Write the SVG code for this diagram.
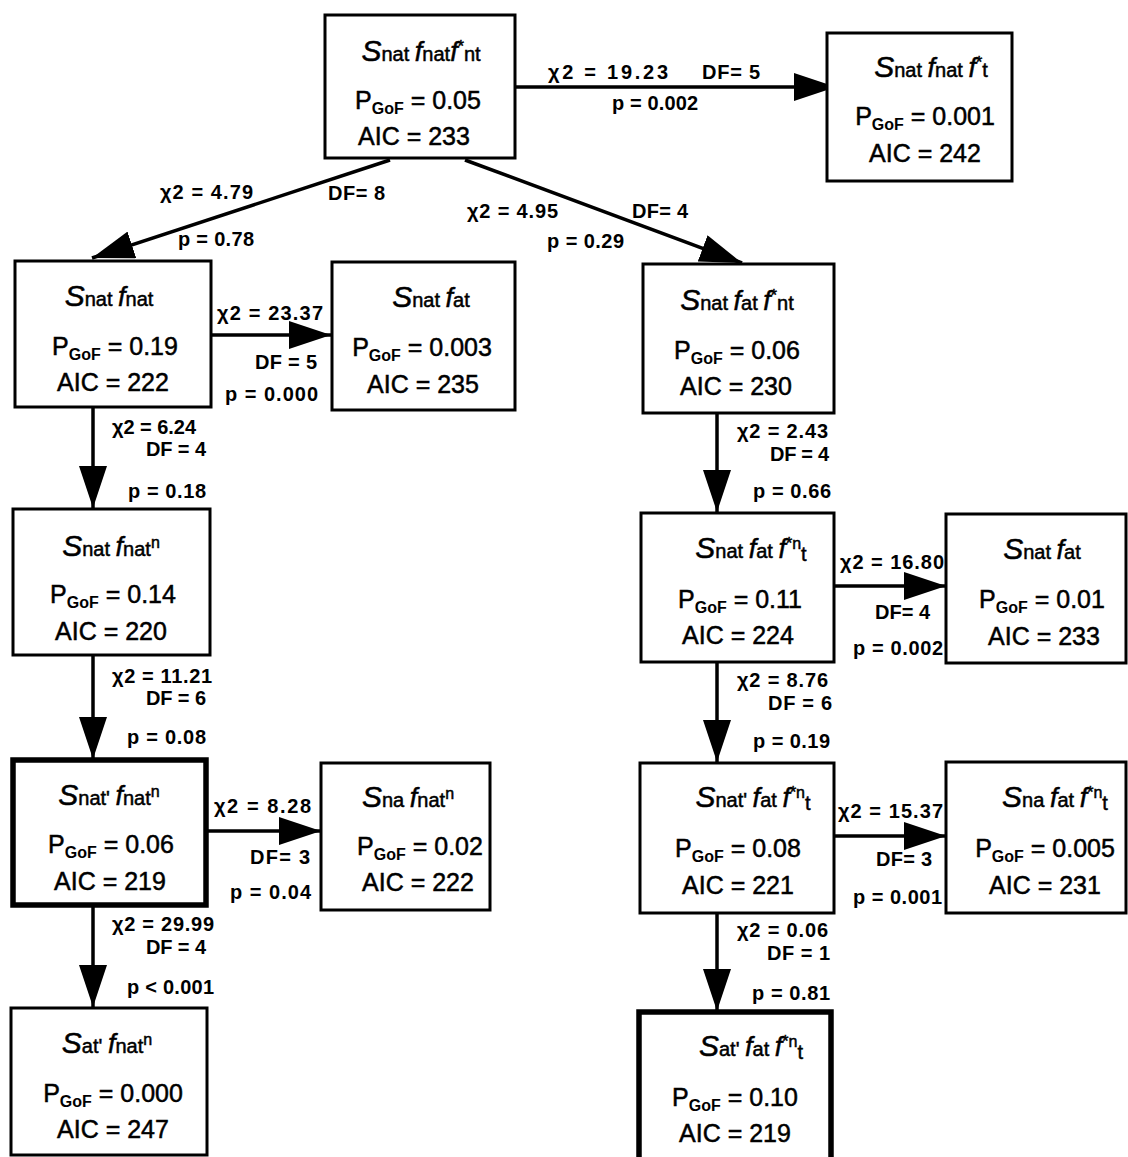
<svg xmlns="http://www.w3.org/2000/svg" width="1128" height="1157" viewBox="0 0 1128 1157">
<style>
.box{fill:#fff;stroke:#000;stroke-width:3}
.thick{stroke-width:5.5}
.t{font-family:"Liberation Sans",Arial,sans-serif;fill:#000;stroke:#000;stroke-width:0.5;text-anchor:middle}
.title{font-size:20px}
.S{font-size:30px;font-style:italic}
.f{font-size:27px;font-style:italic}
.sm{font-size:20px}
.sup{font-size:16px}
.big{font-size:25px}
.gof{font-size:16px;font-weight:bold;stroke-width:0}
.lbl{font-family:"Liberation Sans",Arial,sans-serif;font-size:20px;font-weight:bold;fill:#000}
.edge{stroke:#000;stroke-width:3.5;fill:none}
</style>
<defs>
<marker id="ah" markerUnits="userSpaceOnUse" markerWidth="42" markerHeight="28" refX="42" refY="14" orient="auto" viewBox="0 0 42 28">
<path d="M0,0 L42,14 L0,28 z" fill="#000"/>
</marker>
</defs>

<g id="connectors">
<line class="edge" x1="515" y1="87" x2="836" y2="87" marker-end="url(#ah)"/>
<line class="edge" x1="390" y1="160" x2="92" y2="258" marker-end="url(#ah)"/>
<line class="edge" x1="465" y1="160" x2="742" y2="263" marker-end="url(#ah)"/>
<line class="edge" x1="211" y1="335" x2="331" y2="335" marker-end="url(#ah)"/>
<line class="edge" x1="93" y1="407" x2="93" y2="508" marker-end="url(#ah)"/>
<line class="edge" x1="717" y1="413" x2="717" y2="512" marker-end="url(#ah)"/>
<line class="edge" x1="93" y1="655" x2="93" y2="759" marker-end="url(#ah)"/>
<line class="edge" x1="834" y1="586" x2="946" y2="586" marker-end="url(#ah)"/>
<line class="edge" x1="717" y1="662" x2="717" y2="762" marker-end="url(#ah)"/>
<line class="edge" x1="206" y1="831" x2="321" y2="831" marker-end="url(#ah)"/>
<line class="edge" x1="834" y1="836" x2="946" y2="836" marker-end="url(#ah)"/>
<line class="edge" x1="93" y1="905" x2="93" y2="1007" marker-end="url(#ah)"/>
<line class="edge" x1="717" y1="913" x2="717" y2="1011" marker-end="url(#ah)"/>

<text class="lbl" x="548" y="79" textLength="120" lengthAdjust="spacing">χ2 = 19.23</text>
<text class="lbl" x="702" y="79" textLength="58" lengthAdjust="spacing">DF= 5</text>
<text class="lbl" x="612" y="110" textLength="86" lengthAdjust="spacing">p = 0.002</text>
<text class="lbl" x="160" y="199" textLength="93" lengthAdjust="spacing">χ2 = 4.79</text>
<text class="lbl" x="328" y="200" textLength="57" lengthAdjust="spacing">DF= 8</text>
<text class="lbl" x="178" y="246" textLength="76" lengthAdjust="spacing">p = 0.78</text>
<text class="lbl" x="467" y="218" textLength="91" lengthAdjust="spacing">χ2 = 4.95</text>
<text class="lbl" x="632" y="218" textLength="56" lengthAdjust="spacing">DF= 4</text>
<text class="lbl" x="547" y="248" textLength="77" lengthAdjust="spacing">p = 0.29</text>
<text class="lbl" x="217" y="320" textLength="106" lengthAdjust="spacing">χ2 = 23.37</text>
<text class="lbl" x="255" y="369" textLength="62" lengthAdjust="spacing">DF = 5</text>
<text class="lbl" x="225" y="401" textLength="93" lengthAdjust="spacing">p = 0.000</text>
<text class="lbl" x="112" y="434" textLength="84" lengthAdjust="spacing">χ2 = 6.24</text>
<text class="lbl" x="146" y="456" textLength="60" lengthAdjust="spacing">DF = 4</text>
<text class="lbl" x="128" y="498" textLength="78" lengthAdjust="spacing">p = 0.18</text>
<text class="lbl" x="737" y="438" textLength="91" lengthAdjust="spacing">χ2 = 2.43</text>
<text class="lbl" x="770" y="461" textLength="59" lengthAdjust="spacing">DF = 4</text>
<text class="lbl" x="753" y="498" textLength="78" lengthAdjust="spacing">p = 0.66</text>
<text class="lbl" x="112" y="683" textLength="100" lengthAdjust="spacing">χ2 = 11.21</text>
<text class="lbl" x="146" y="705" textLength="60" lengthAdjust="spacing">DF = 6</text>
<text class="lbl" x="127" y="744" textLength="79" lengthAdjust="spacing">p = 0.08</text>
<text class="lbl" x="840" y="569" textLength="104" lengthAdjust="spacing">χ2 = 16.80</text>
<text class="lbl" x="875" y="619" textLength="55" lengthAdjust="spacing">DF= 4</text>
<text class="lbl" x="853" y="655" textLength="90" lengthAdjust="spacing">p = 0.002</text>
<text class="lbl" x="737" y="687" textLength="91" lengthAdjust="spacing">χ2 = 8.76</text>
<text class="lbl" x="768" y="710" textLength="64" lengthAdjust="spacing">DF = 6</text>
<text class="lbl" x="753" y="748" textLength="77" lengthAdjust="spacing">p = 0.19</text>
<text class="lbl" x="214" y="813" textLength="97" lengthAdjust="spacing">χ2 = 8.28</text>
<text class="lbl" x="250" y="864" textLength="60" lengthAdjust="spacing">DF= 3</text>
<text class="lbl" x="230" y="899" textLength="81" lengthAdjust="spacing">p = 0.04</text>
<text class="lbl" x="838" y="818" textLength="105" lengthAdjust="spacing">χ2 = 15.37</text>
<text class="lbl" x="876" y="866" textLength="56" lengthAdjust="spacing">DF= 3</text>
<text class="lbl" x="853" y="904" textLength="89" lengthAdjust="spacing">p = 0.001</text>
<text class="lbl" x="112" y="931" textLength="102" lengthAdjust="spacing">χ2 = 29.99</text>
<text class="lbl" x="146" y="954" textLength="60" lengthAdjust="spacing">DF = 4</text>
<text class="lbl" x="127" y="994" textLength="87" lengthAdjust="spacing">p &lt; 0.001</text>
<text class="lbl" x="737" y="937" textLength="91" lengthAdjust="spacing">χ2 = 0.06</text>
<text class="lbl" x="767" y="960" textLength="63" lengthAdjust="spacing">DF = 1</text>
<text class="lbl" x="752" y="1000" textLength="78" lengthAdjust="spacing">p = 0.81</text>
</g>

<g id="nA">
<rect class="box" x="325" y="15" width="190" height="143"/>
<text class="t title" x="421" y="61"><tspan class="S">S</tspan><tspan class="sm">nat </tspan><tspan class="f">f</tspan><tspan class="sm">nat</tspan><tspan class="f">f</tspan><tspan class="sup" dy="-9">*</tspan><tspan class="sm" dy="9">nt</tspan></text>
<text class="t big" x="418" y="109">P<tspan class="gof" dy="5">GoF</tspan><tspan dy="-5"> = 0.05</tspan></text>
<text class="t big" x="414" y="145">AIC = 233</text>
</g>

<g id="nB">
<rect class="box" x="827" y="33" width="185" height="148"/>
<text class="t title" x="931" y="77"><tspan class="S">S</tspan><tspan class="sm">nat </tspan><tspan class="f">f</tspan><tspan class="sm">nat </tspan><tspan class="f">f</tspan><tspan class="sup" dy="-9">*</tspan><tspan class="sm" dy="9">t</tspan></text>
<text class="t big" x="925" y="125">P<tspan class="gof" dy="5">GoF</tspan><tspan dy="-5"> = 0.001</tspan></text>
<text class="t big" x="925" y="162">AIC = 242</text>
</g>

<g id="nC">
<rect class="box" x="15" y="261" width="196" height="146"/>
<text class="t title" x="109" y="306"><tspan class="S">S</tspan><tspan class="sm">nat </tspan><tspan class="f">f</tspan><tspan class="sm">nat</tspan></text>
<text class="t big" x="115" y="355">P<tspan class="gof" dy="5">GoF</tspan><tspan dy="-5"> = 0.19</tspan></text>
<text class="t big" x="113" y="391">AIC = 222</text>
</g>

<g id="nD">
<rect class="box" x="332" y="262" width="183" height="148"/>
<text class="t title" x="431" y="307"><tspan class="S">S</tspan><tspan class="sm">nat </tspan><tspan class="f">f</tspan><tspan class="sm">at</tspan></text>
<text class="t big" x="422" y="356">P<tspan class="gof" dy="5">GoF</tspan><tspan dy="-5"> = 0.003</tspan></text>
<text class="t big" x="423" y="393">AIC = 235</text>
</g>

<g id="nE">
<rect class="box" x="643" y="264" width="191" height="149"/>
<text class="t title" x="737" y="310"><tspan class="S">S</tspan><tspan class="sm">nat </tspan><tspan class="f">f</tspan><tspan class="sm">at </tspan><tspan class="f">f</tspan><tspan class="sup" dy="-9">*</tspan><tspan class="sm" dy="9">nt</tspan></text>
<text class="t big" x="737" y="359">P<tspan class="gof" dy="5">GoF</tspan><tspan dy="-5"> = 0.06</tspan></text>
<text class="t big" x="736" y="395">AIC = 230</text>
</g>

<g id="nF">
<rect class="box" x="13" y="509" width="197" height="146"/>
<text class="t title" x="111" y="556"><tspan class="S">S</tspan><tspan class="sm">nat </tspan><tspan class="f">f</tspan><tspan class="sm">nat</tspan><tspan class="sup" dy="-8">n</tspan></text>
<text class="t big" x="113" y="603">P<tspan class="gof" dy="5">GoF</tspan><tspan dy="-5"> = 0.14</tspan></text>
<text class="t big" x="111" y="640">AIC = 220</text>
</g>

<g id="nG">
<rect class="box" x="641" y="513" width="193" height="149"/>
<text class="t title" x="751" y="558"><tspan class="S">S</tspan><tspan class="sm">nat </tspan><tspan class="f">f</tspan><tspan class="sm">at </tspan><tspan class="f">f</tspan><tspan class="sup" dy="-9">*n</tspan><tspan class="sm" dy="12">t</tspan></text>
<text class="t big" x="740" y="608">P<tspan class="gof" dy="5">GoF</tspan><tspan dy="-5"> = 0.11</tspan></text>
<text class="t big" x="738" y="644">AIC = 224</text>
</g>

<g id="nH">
<rect class="box" x="946" y="514" width="180" height="149"/>
<text class="t title" x="1042" y="559"><tspan class="S">S</tspan><tspan class="sm">nat </tspan><tspan class="f">f</tspan><tspan class="sm">at</tspan></text>
<text class="t big" x="1042" y="608">P<tspan class="gof" dy="5">GoF</tspan><tspan dy="-5"> = 0.01</tspan></text>
<text class="t big" x="1044" y="645">AIC = 233</text>
</g>

<g id="nI">
<rect class="box thick" x="13" y="760" width="193" height="145"/>
<text class="t title" x="109" y="805"><tspan class="S">S</tspan><tspan class="sm">nat' </tspan><tspan class="f">f</tspan><tspan class="sm">nat</tspan><tspan class="sup" dy="-8">n</tspan></text>
<text class="t big" x="111" y="853">P<tspan class="gof" dy="5">GoF</tspan><tspan dy="-5"> = 0.06</tspan></text>
<text class="t big" x="110" y="890">AIC = 219</text>
</g>

<g id="nJ">
<rect class="box" x="321" y="763" width="169" height="147"/>
<text class="t title" x="408" y="807"><tspan class="S">S</tspan><tspan class="sm">na </tspan><tspan class="f">f</tspan><tspan class="sm">nat</tspan><tspan class="sup" dy="-8">n</tspan></text>
<text class="t big" x="420" y="855">P<tspan class="gof" dy="5">GoF</tspan><tspan dy="-5"> = 0.02</tspan></text>
<text class="t big" x="418" y="891">AIC = 222</text>
</g>

<g id="nK">
<rect class="box" x="640" y="763" width="194" height="150"/>
<text class="t title" x="753" y="807"><tspan class="S">S</tspan><tspan class="sm">nat' </tspan><tspan class="f">f</tspan><tspan class="sm">at </tspan><tspan class="f">f</tspan><tspan class="sup" dy="-9">*n</tspan><tspan class="sm" dy="12">t</tspan></text>
<text class="t big" x="738" y="857">P<tspan class="gof" dy="5">GoF</tspan><tspan dy="-5"> = 0.08</tspan></text>
<text class="t big" x="738" y="894">AIC = 221</text>
</g>

<g id="nL">
<rect class="box" x="946" y="762" width="180" height="151"/>
<text class="t title" x="1055" y="807"><tspan class="S">S</tspan><tspan class="sm">na </tspan><tspan class="f">f</tspan><tspan class="sm">at </tspan><tspan class="f">f</tspan><tspan class="sup" dy="-9">*n</tspan><tspan class="sm" dy="12">t</tspan></text>
<text class="t big" x="1045" y="857">P<tspan class="gof" dy="5">GoF</tspan><tspan dy="-5"> = 0.005</tspan></text>
<text class="t big" x="1045" y="894">AIC = 231</text>
</g>

<g id="nM">
<rect class="box" x="11" y="1008" width="196" height="147"/>
<text class="t title" x="107" y="1053"><tspan class="S">S</tspan><tspan class="sm">at' </tspan><tspan class="f">f</tspan><tspan class="sm">nat</tspan><tspan class="sup" dy="-8">n</tspan></text>
<text class="t big" x="113" y="1102">P<tspan class="gof" dy="5">GoF</tspan><tspan dy="-5"> = 0.000</tspan></text>
<text class="t big" x="113" y="1138">AIC = 247</text>
</g>

<g id="nN">
<rect class="box thick" x="639" y="1012" width="192" height="150"/>
<text class="t title" x="751" y="1056"><tspan class="S">S</tspan><tspan class="sm">at' </tspan><tspan class="f">f</tspan><tspan class="sm">at </tspan><tspan class="f">f</tspan><tspan class="sup" dy="-9">*n</tspan><tspan class="sm" dy="12">t</tspan></text>
<text class="t big" x="735" y="1106">P<tspan class="gof" dy="5">GoF</tspan><tspan dy="-5"> = 0.10</tspan></text>
<text class="t big" x="735" y="1142">AIC = 219</text>
</g>
</svg>
